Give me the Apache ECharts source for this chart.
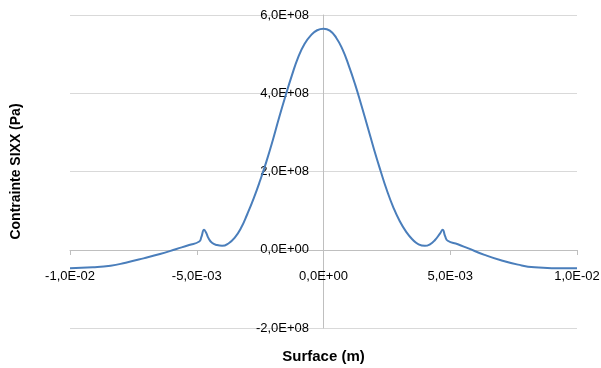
<!DOCTYPE html>
<html>
<head>
<meta charset="utf-8">
<script src="https://cdn.jsdelivr.net/npm/echarts@6/dist/echarts.min.js"></script>
<style>html,body{margin:0;padding:0;background:#fff}#c{width:601px;height:368px}</style>
</head>
<body>
<div id="c"></div>
<script>
// Surface (m)
var xValues = [-0.0100,-0.0091,-0.0084,-0.0078,-0.0071,-0.00645,-0.0058,-0.0053,-0.0049,-0.00482,-0.00471,-0.00462,-0.00454,-0.0044,-0.0042,-0.0040,-0.00375,-0.0035,-0.00325,-0.0030,-0.00275,-0.0025,-0.00225,-0.0020,-0.00175,-0.0015,-0.00125,-0.0010,-0.00075,-0.0005,-0.00025,0,0.00025,0.0005,0.00075,0.0010,0.00125,0.0015,0.00175,0.0020,0.00225,0.0025,0.00275,0.0030,0.00325,0.0035,0.00375,0.0040,0.0042,0.0044,0.0046,0.0047,0.0048,0.0049,0.0053,0.00569,0.00635,0.0070,0.00767,0.00833,0.0090,0.0100];
// Contrainte SIXX (Pa)
var yValues = [-0.47e8,-0.45e8,-0.41e8,-0.33e8,-0.22e8,-0.11e8,0.02e8,0.12e8,0.21e8,0.32e8,0.51e8,0.42e8,0.30e8,0.18e8,0.12e8,0.10e8,0.16e8,0.31e8,0.56e8,0.92e8,1.32e8,1.77e8,2.26e8,2.80e8,3.38e8,3.93e8,4.45e8,4.92e8,5.26e8,5.48e8,5.61e8,5.65e8,5.60e8,5.42e8,5.12e8,4.70e8,4.22e8,3.68e8,3.12e8,2.55e8,2.02e8,1.52e8,1.09e8,0.74e8,0.47e8,0.27e8,0.14e8,0.10e8,0.14e8,0.25e8,0.42e8,0.51e8,0.34e8,0.23e8,0.14e8,0.04e8,-0.13e8,-0.27e8,-0.38e8,-0.45e8,-0.47e8,-0.47e8];
var xTicks = {min:-0.01, max:0.01, interval:0.005};
var yTicks = {min:-2e8, max:6e8, interval:2e8};

function fmt(v){
  var s = Number(v).toExponential(1);
  var m = s.split('e');
  var e = parseInt(m[1],10);
  var es = (e<0?'-':'+') + (Math.abs(e)<10?'0':'') + Math.abs(e);
  return m[0].replace('.',',') + 'E' + es;
}
var data = xValues.map(function(x,i){return [x,yValues[i]];});
var font = 'Liberation Sans';
var chart = echarts.init(document.getElementById('c'));
chart.setOption({
  animation:false,
  grid:{left:70,right:24,top:15,bottom:40,containLabel:false,outerBoundsMode:'none'},
  xAxis:{type:'value',position:'bottom',offset:-78,min:xTicks.min,max:xTicks.max,interval:xTicks.interval,
    axisLine:{show:true,onZero:false,lineStyle:{color:'#bfbfbf',width:1}},
    axisTick:{show:true,length:5,inside:false,lineStyle:{color:'#bfbfbf'}},
    splitLine:{show:false},
    axisLabel:{formatter:fmt,color:'#000',fontFamily:font,fontSize:13,margin:20},
    name:'Surface (m)',nameLocation:'middle',nameGap:99,
    nameTextStyle:{fontFamily:font,fontWeight:'bold',fontSize:15,color:'#000'}
  },
  yAxis:{type:'value',position:'left',offset:-253,min:yTicks.min,max:yTicks.max,interval:yTicks.interval,
    axisLine:{show:true,onZero:false,lineStyle:{color:'#bfbfbf',width:1}},
    axisTick:{show:false},
    splitLine:{show:true,lineStyle:{color:'#d9d9d9',width:1}},
    axisLabel:{formatter:fmt,color:'#000',fontFamily:font,fontSize:13,margin:14},
    name:'Contrainte SIXX (Pa)',nameLocation:'middle',nameGap:300,nameRotate:90,
    nameTextStyle:{fontFamily:font,fontWeight:'bold',fontSize:14,color:'#000'}
  },
  series:[{type:'line',data:data,showSymbol:false,smooth:0.5,
    lineStyle:{color:'#4a7ebb',width:2},itemStyle:{color:'#4a7ebb'}}]
});
</script>
</body>
</html>
